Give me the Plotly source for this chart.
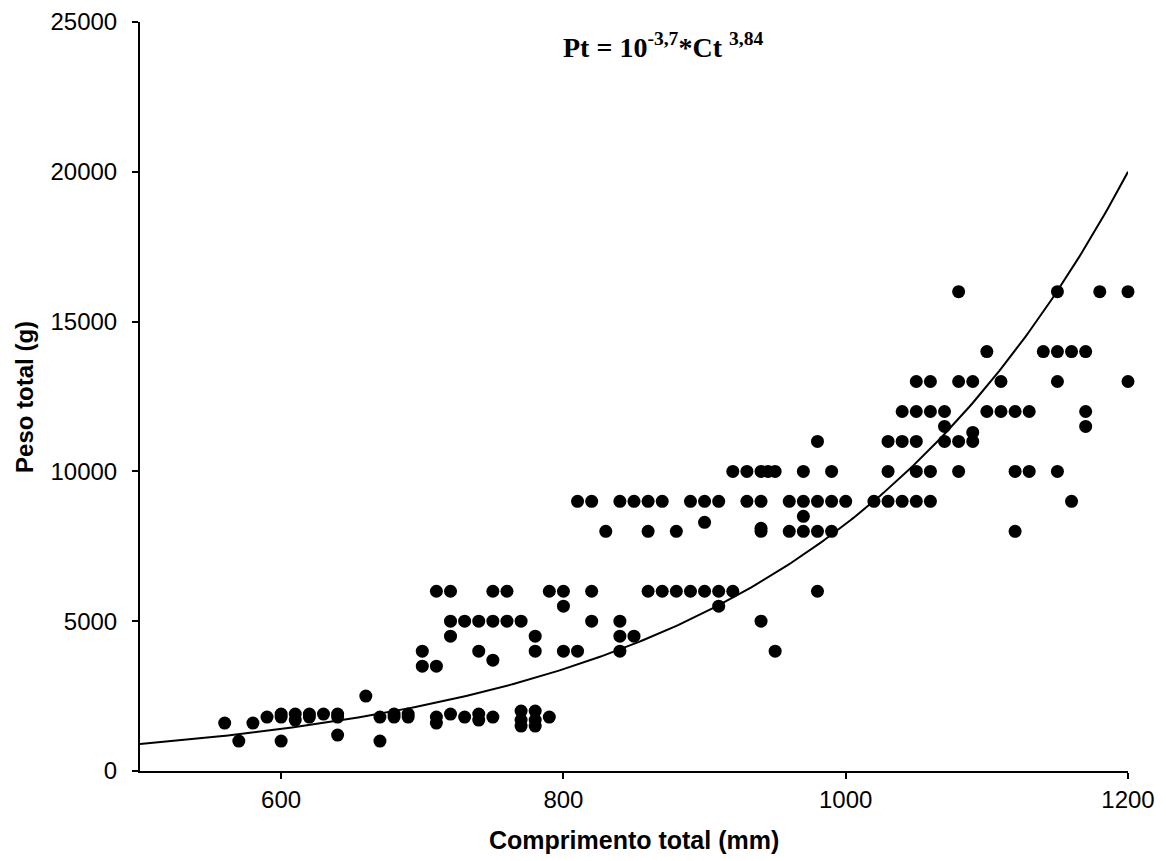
import numpy as np
import plotly.graph_objects as go

# Comprimento total (mm) and Peso total (g)
comprimento = [
    560, 570, 580, 590,
    600, 600, 600,
    610, 610,
    620, 620,
    630,
    640, 640, 640,
    660,
    670, 670,
    680, 680,
    690, 690,
    700, 700,
    710, 710, 710, 710,
    720, 720, 720, 720,
    730, 730,
    740, 740, 740, 740,
    750, 750, 750, 750,
    760, 760,
    770, 770, 770, 770,
    780, 780, 780, 780, 780,
    790, 790,
    800, 800, 800,
    810, 810,
    820, 820, 820,
    830,
    840, 840, 840, 840,
    850, 850,
    860, 860, 860,
    870, 870,
    880, 880,
    890, 890,
    900, 900, 900,
    910, 910, 910,
    920, 920,
    930, 930,
    940, 940, 940, 940, 940,
    945,
    950, 950,
    960, 960,
    970, 970, 970, 970,
    980, 980, 980, 980,
    990, 990, 990,
    1000,
    1020,
    1030, 1030, 1030,
    1040, 1040, 1040,
    1050, 1050, 1050, 1050, 1050,
    1060, 1060, 1060, 1060,
    1070, 1070, 1070,
    1080, 1080, 1080, 1080,
    1090, 1090, 1090,
    1100, 1100,
    1110, 1110,
    1120, 1120, 1120,
    1130, 1130,
    1140,
    1150, 1150, 1150, 1150,
    1160, 1160,
    1170, 1170, 1170,
    1180,
    1200, 1200,
]
peso = [
    1600, 1000, 1600, 1800,
    1900, 1800, 1000,
    1900, 1700,
    1900, 1800,
    1900,
    1900, 1800, 1200,
    2500,
    1800, 1000,
    1900, 1800,
    1900, 1800,
    4000, 3500,
    6000, 3500, 1800, 1600,
    6000, 5000, 4500, 1900,
    5000, 1800,
    5000, 4000, 1900, 1700,
    6000, 5000, 3700, 1800,
    6000, 5000,
    5000, 2000, 1700, 1500,
    4500, 4000, 2000, 1700, 1500,
    6000, 1800,
    6000, 5500, 4000,
    9000, 4000,
    9000, 6000, 5000,
    8000,
    9000, 5000, 4500, 4000,
    9000, 4500,
    9000, 8000, 6000,
    9000, 6000,
    8000, 6000,
    9000, 6000,
    9000, 8300, 6000,
    9000, 6000, 5500,
    10000, 6000,
    10000, 9000,
    10000, 9000, 8100, 8000, 5000,
    10000,
    10000, 4000,
    9000, 8000,
    10000, 9000, 8500, 8000,
    11000, 9000, 8000, 6000,
    10000, 9000, 8000,
    9000,
    9000,
    11000, 10000, 9000,
    12000, 11000, 9000,
    13000, 12000, 11000, 10000, 9000,
    13000, 12000, 10000, 9000,
    12000, 11500, 11000,
    16000, 13000, 11000, 10000,
    13000, 11300, 11000,
    14000, 12000,
    13000, 12000,
    12000, 10000, 8000,
    12000, 10000,
    14000,
    16000, 14000, 13000, 10000,
    14000, 9000,
    14000, 12000, 11500,
    16000,
    16000, 13000,
]

# Fitted curve as drawn: passes ~900 g at 500 mm and ~20000 g at 1200 mm
curve_x0, curve_y0 = 500, 900
curve_x1, curve_y1 = 1200, 20000
k = np.log(curve_y1 / curve_y0) / (curve_x1 - curve_x0)
xc = np.linspace(curve_x0, curve_x1, 300)
yc = curve_y0 * np.exp(k * (xc - curve_x0))

x_ticks = [600, 800, 1000, 1200]
x_ticktext = ["600", "800", "1000", "1200"]
y_ticks = [0, 5000, 10000, 15000, 20000, 25000]
y_ticktext = ["0", "5000", "10000", "15000", "20000", "25000"]

fig = go.Figure()
fig.add_trace(go.Scatter(
    x=xc, y=yc, mode="lines",
    line=dict(color="black", width=2),
    hoverinfo="skip", showlegend=False,
))
fig.add_trace(go.Scatter(
    x=comprimento, y=peso, mode="markers",
    marker=dict(color="black", size=13, symbol="circle"),
    cliponaxis=False, showlegend=False,
))

font_sans = "Liberation Sans, Arial, sans-serif"

fig.update_layout(
    width=1166, height=861,
    margin=dict(l=140, r=38, t=22, b=90),
    paper_bgcolor="white", plot_bgcolor="white",
    font=dict(family=font_sans, size=24, color="black"),
    xaxis=dict(
        range=[500, 1200], tickvals=x_ticks, ticktext=x_ticktext,
        showgrid=False, zeroline=False, automargin=False,
        showline=True, linecolor="black", linewidth=2,
        ticks="outside", ticklen=6, tickwidth=1.5, tickcolor="black",
        ticklabelstandoff=0,
        tickfont=dict(size=24),
    ),
    yaxis=dict(
        range=[0, 25000], tickvals=y_ticks, ticktext=y_ticktext,
        showgrid=False, zeroline=False, automargin=False,
        showline=True, linecolor="black", linewidth=2,
        ticks="outside", ticklen=6, tickwidth=1.5, tickcolor="black",
        ticklabelstandoff=10,
        tickfont=dict(size=24),
    ),
    annotations=[
        dict(text="<b>Comprimento total (mm)</b>", x=0.5, y=-0.092,
             xref="paper", yref="paper", xanchor="center", yanchor="middle",
             showarrow=False, font=dict(size=25, family=font_sans)),
        dict(text="<b>Peso total (g)</b>", x=-0.117, y=0.5,
             xref="paper", yref="paper", xanchor="center", yanchor="middle",
             textangle=-90, showarrow=False, font=dict(size=24, family=font_sans)),
        dict(text="<b>Pt = 10<sup>-3,7</sup>*Ct <sup>3,84</sup></b>",
             x=0.529, y=0.968, xref="paper", yref="paper",
             xanchor="center", yanchor="middle", showarrow=False,
             font=dict(size=28, family="Liberation Serif, Times New Roman, serif")),
    ],
)

fig.write_html(
    "out.html",
    config={"displayModeBar": False},
    post_script="document.body.style.margin='0';document.body.style.padding='0';",
)
